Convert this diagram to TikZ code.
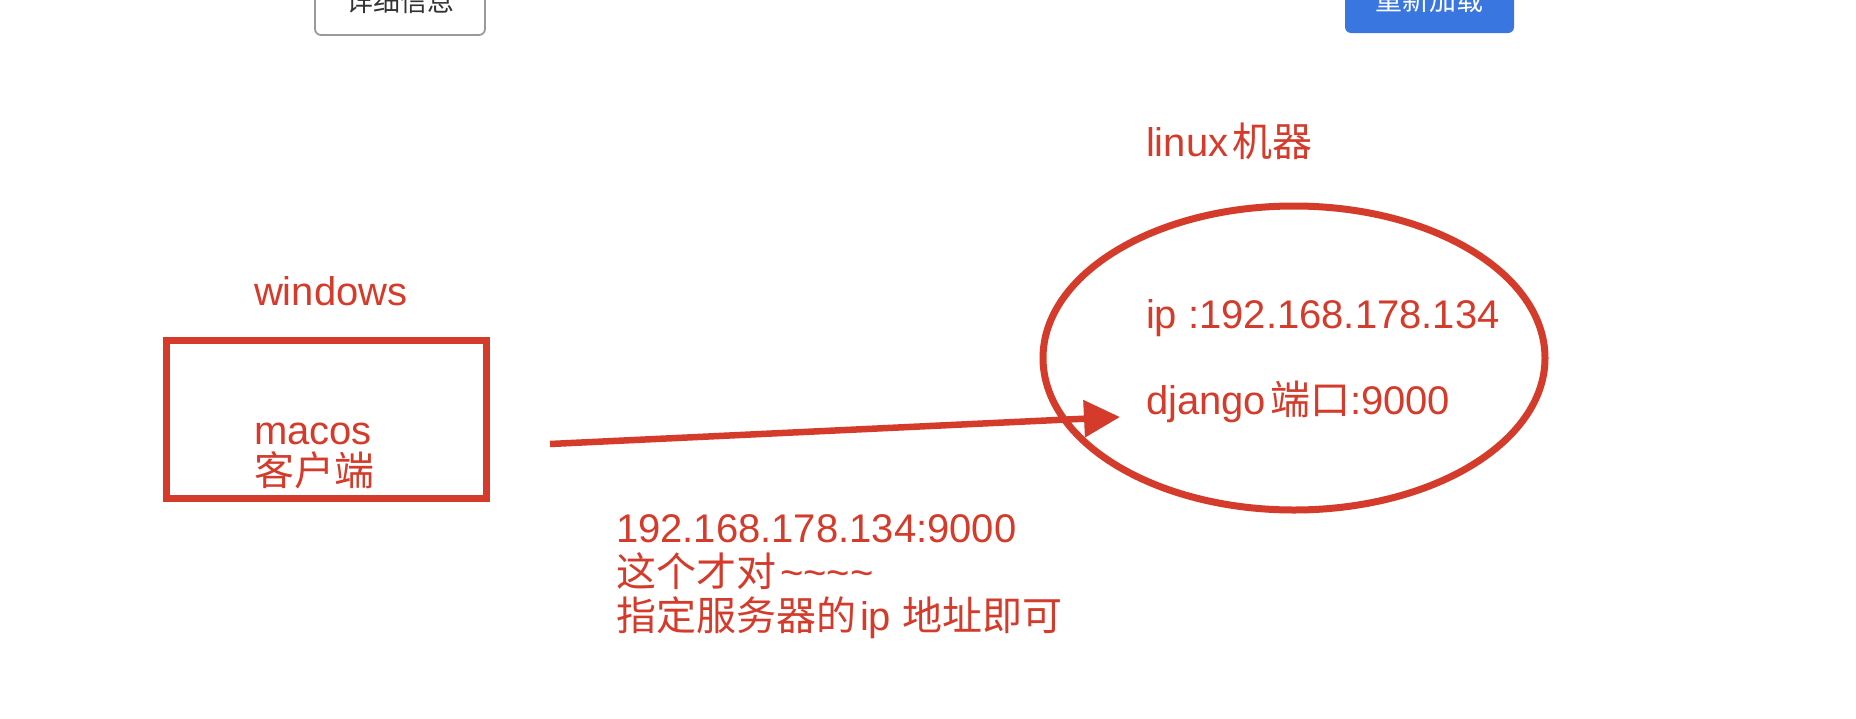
\documentclass[tikz,border=0pt]{standalone}
\usepackage{fontspec}
\setmainfont{Liberation Sans}
\newfontfamily\cjk{Noto Sans CJK SC}
\usetikzlibrary{arrows.meta,shapes.geometric}
\definecolor{myred}{HTML}{D43B2A}
\definecolor{btnblue}{HTML}{3A76E0}
\definecolor{btngray}{HTML}{9A9A9E}
\definecolor{btntext}{HTML}{333333}
\tikzset{
  lbl/.style={text=myred, inner sep=0pt, outer sep=0pt, anchor=base west,
    font=\fontsize{40pt}{44pt}\selectfont},
  btnlbl/.style={inner sep=0pt, anchor=base, font=\cjk\fontsize{27pt}{30pt}\selectfont},
  redline/.style={draw=myred, line width=7pt},
}
\begin{document}
\begin{tikzpicture}[x=1pt,y=-1pt]
\useasboundingbox (0,0) rectangle (1856,718);
\fill[white] (0,0) rectangle (1856,718);
\begin{scope}
\clip (0,0) rectangle (1856,718);
% top buttons (cut off at the top edge, as in the reference)
\draw[btngray, line width=1.8pt, fill=white, rounded corners=6pt] (315,-30) rectangle (485,35);
\node[btnlbl, text=btntext] (btnA) at (400,11) {详细信息};
\fill[btnblue, rounded corners=6pt] (1345,-30) rectangle (1514,33);
\node[btnlbl, text=white] (btnB) at (1429,10) {重新加载};
\end{scope}

% windows box
\node[lbl] (winlbl) at (254,305) {windows};
\node[redline, rectangle, inner sep=0pt, outer sep=0pt,
      minimum width=320pt, minimum height=158pt] (winbox) at (326,419) {};
\node[lbl] (mac1) at (254,444) {macos};
\node[lbl] (mac2) at (254,485) {\cjk 客户端};

% linux machine
\node[lbl] (linlbl) at (1146,156) {linux\hspace{4pt}{\cjk 机器}};
\node[redline, ellipse, inner sep=0pt, outer sep=0pt,
      minimum width=502pt, minimum height=304pt] (linux) at (1294,358) {};
\node[lbl] (ip) at (1146,328) {ip :192.168.178.134};
\node[lbl] (port) at (1146,414) {django\hspace{4pt}{\cjk 端口}:9000};

% arrow
\coordinate (arrS) at (550,444);
\coordinate (arrE) at (1120,417);
\draw[myred, line width=6.5pt, -{Triangle[length=36pt,width=36pt]}] (arrS) -- (arrE);

% note
\node[lbl] (n1) at (616,542) {192.168.178.134:9000};
\node[lbl] (n2) at (616,586) {{\cjk 这个才对}\hspace{4pt}\textasciitilde\textasciitilde\textasciitilde\textasciitilde};
\node[lbl] (n3) at (616,630) {{\cjk 指定服务器的}\hspace{4pt}ip {\cjk 地址即可}};
\end{tikzpicture}
\end{document}
